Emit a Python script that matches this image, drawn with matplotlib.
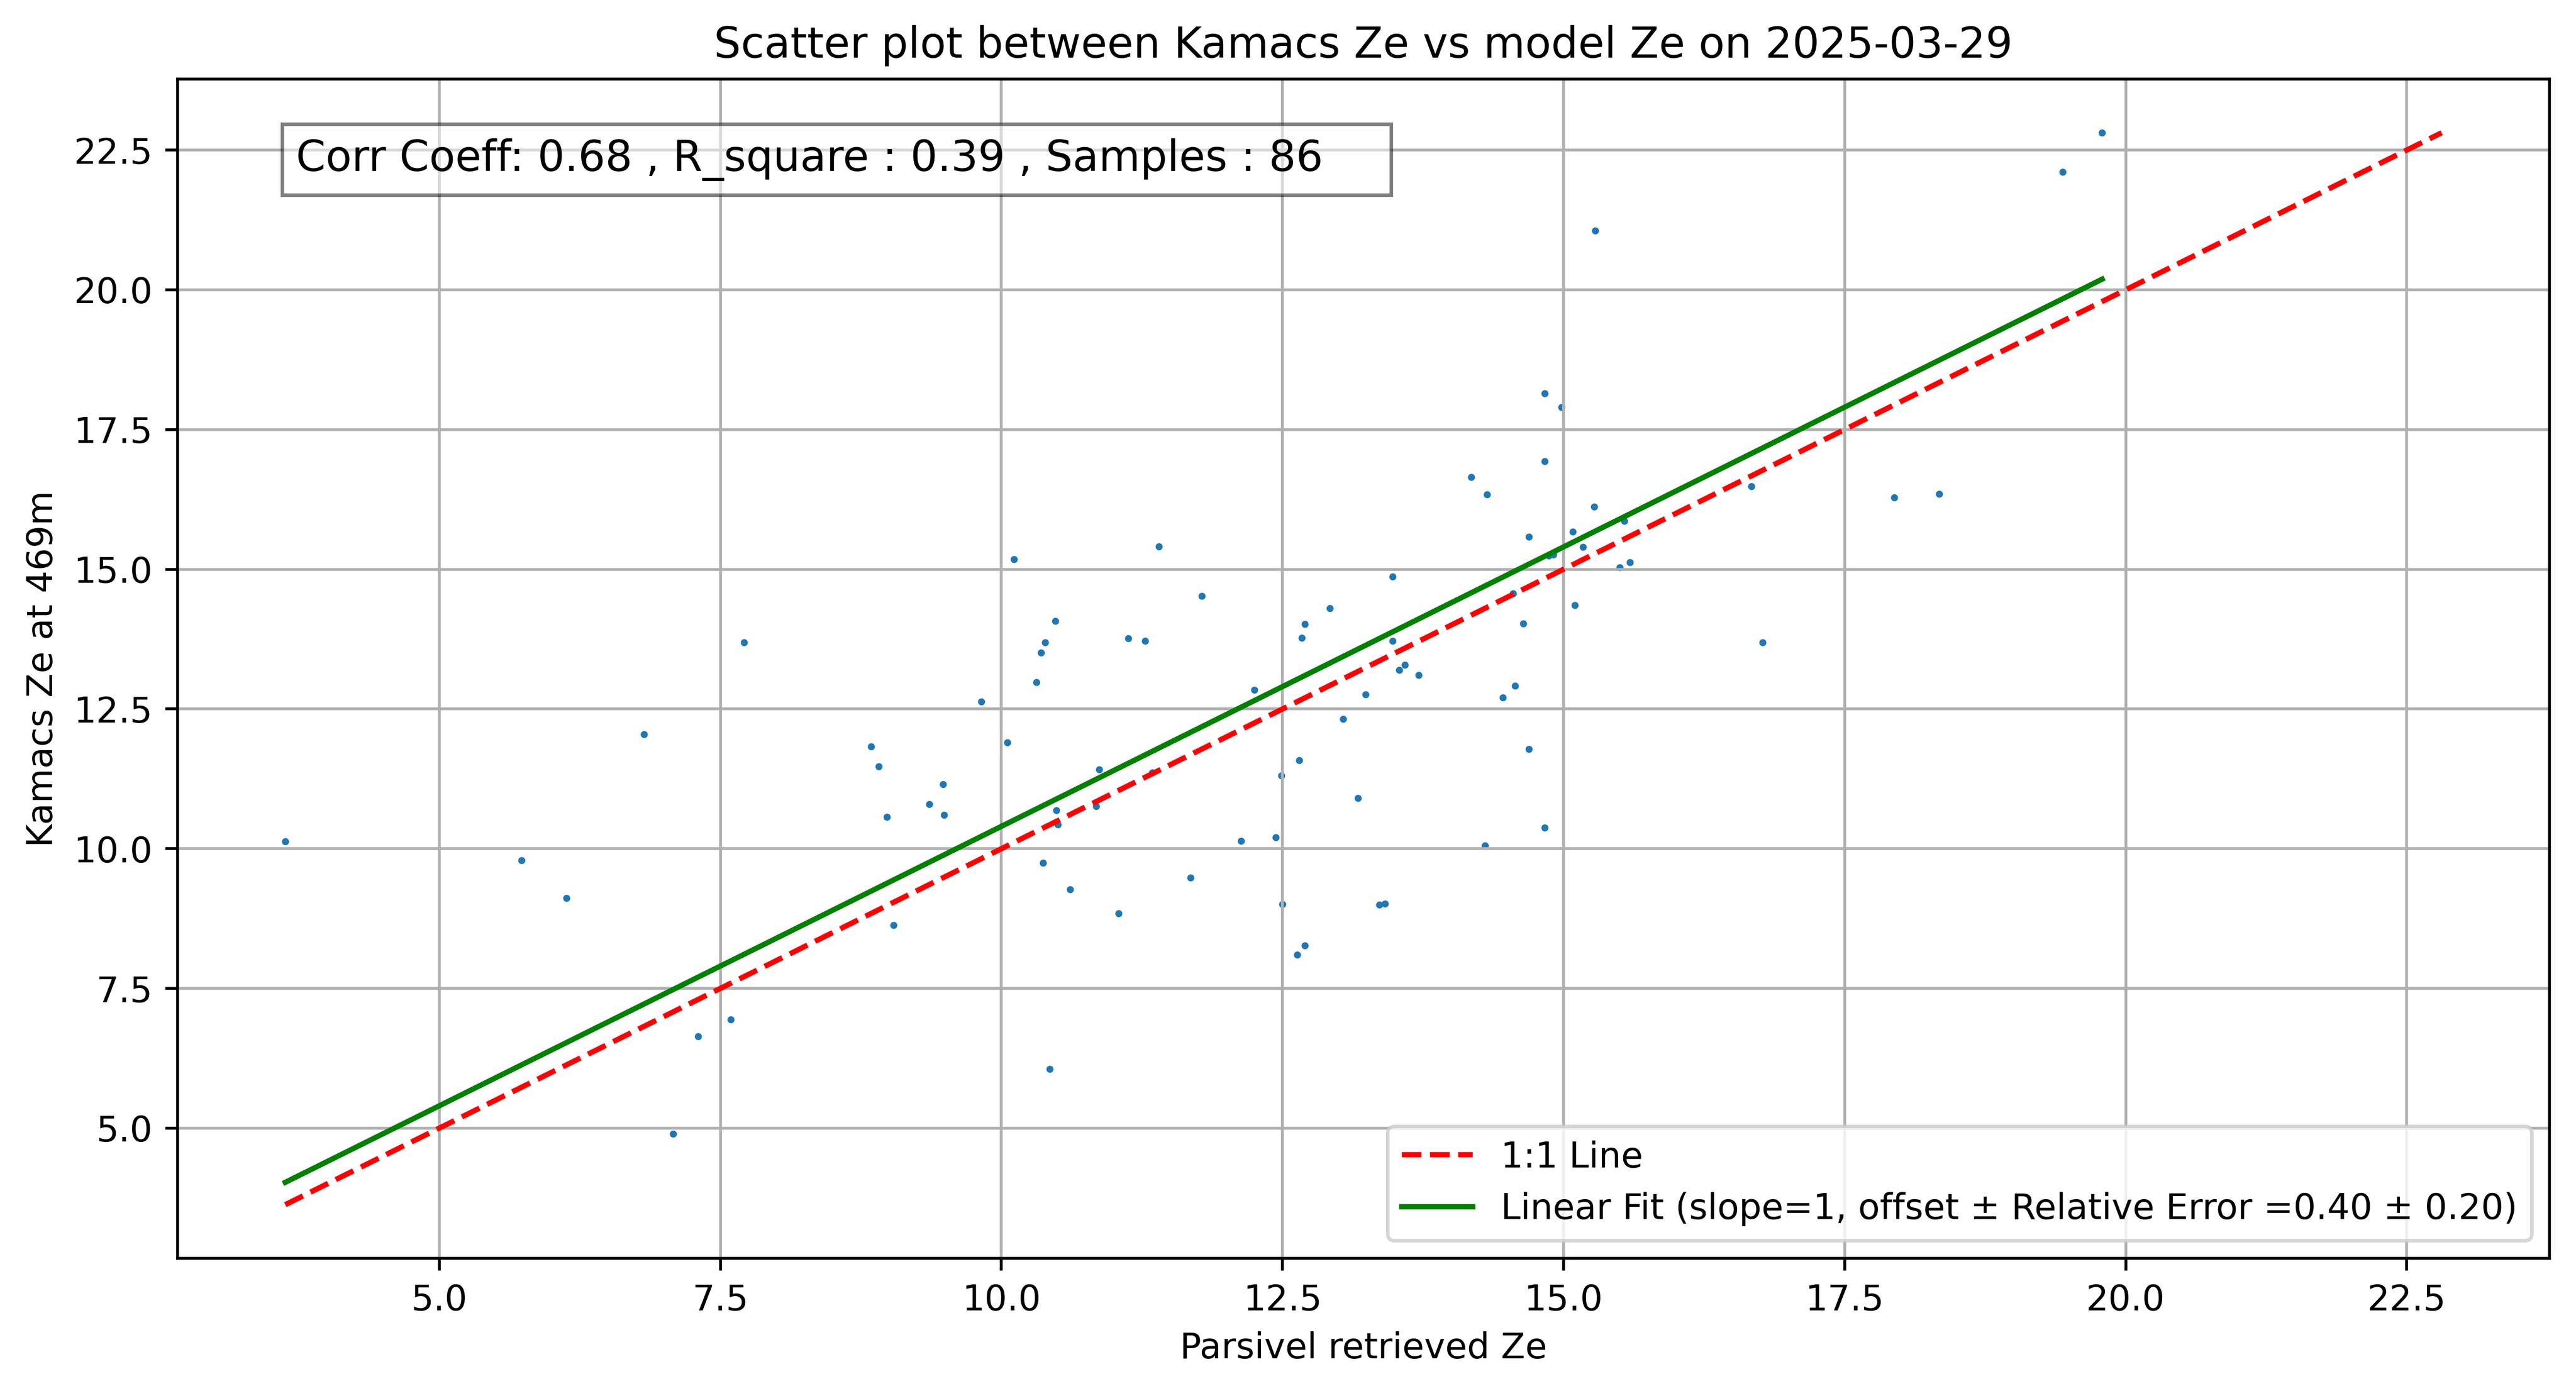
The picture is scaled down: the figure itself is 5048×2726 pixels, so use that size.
import numpy as np
import matplotlib
matplotlib.use("Agg")
import matplotlib.pyplot as plt

# =========================
# DATA
# =========================
PLOT_DATE = "2025-03-29"
HEIGHT_LABEL = "469m"

parsivel_ze = [
    3.63, 5.73, 6.13, 6.82, 7.08, 7.30, 7.59, 7.71, 8.84, 8.91,
    8.98, 9.04, 9.36, 9.48, 9.49, 9.82, 10.05, 10.11, 10.31, 10.35,
    10.39, 10.37, 10.43, 10.48, 10.49, 10.50, 10.61, 10.84, 10.87, 11.04,
    11.13, 11.28, 11.34, 11.40, 11.68, 11.78, 12.13, 12.25, 12.44, 12.49,
    12.50, 12.63, 12.65, 12.67, 12.70, 12.70, 12.92, 13.04, 13.17, 13.24,
    13.36, 13.41, 13.48, 13.48, 13.54, 13.59, 13.71, 14.18, 14.30, 14.32,
    14.46, 14.55, 14.57, 14.64, 14.69, 14.69, 14.83, 14.83, 14.83, 14.91,
    14.87, 14.98, 15.08, 15.10, 15.17, 15.27, 15.28, 15.50, 15.54, 15.59,
    16.67, 16.77, 17.94, 18.34, 19.44, 19.79,
]

kamacs_ze = [
    10.13, 9.79, 9.12, 12.05, 4.90, 6.64, 6.94, 13.69, 11.83, 11.47,
    10.57, 8.63, 10.80, 11.15, 10.60, 12.63, 11.90, 15.18, 12.98, 13.51,
    13.69, 9.75, 6.06, 14.07, 10.69, 10.43, 9.27, 10.76, 11.42, 8.84,
    13.76, 13.72, 11.36, 15.41, 9.48, 14.52, 10.14, 12.84, 10.20, 11.31,
    9.01, 8.10, 11.58, 13.77, 14.02, 8.27, 14.30, 12.32, 10.91, 12.76,
    9.00, 9.02, 14.87, 13.72, 13.20, 13.29, 13.11, 16.65, 10.06, 16.34,
    12.70, 14.57, 12.91, 14.03, 15.58, 11.78, 18.15, 16.93, 10.38, 15.26,
    15.24, 17.90, 15.67, 14.36, 15.40, 16.12, 21.06, 15.03, 15.86, 15.12,
    16.48, 13.69, 16.28, 16.35, 22.11, 22.81,
]

# stats printed on the chart
CORR_COEFF = 0.68
R_SQUARE = 0.39
FIT_SLOPE = 1
FIT_OFFSET = 0.40
REL_ERROR = 0.20


# =========================
# PLOT
# =========================
def plot_scatter(x, y):
    x = np.array(x)
    y = np.array(y)

    fig = plt.figure(figsize=(5048 / 500, 2726 / 500), dpi=500)
    ax = fig.add_axes([0.0689, 0.0954, 0.9208, 0.8477])

    ax.scatter(x, y, s=4, linewidths=0, color='tab:blue')

    # 1:1 line over full data range
    lo = min(x.min(), y.min())
    hi = max(x.max(), y.max())
    ax.plot([lo, hi], [lo, hi], 'r--', label='1:1 Line')

    # linear fit with fixed slope
    xs = np.array([x.min(), x.max()])
    ax.plot(xs, FIT_SLOPE * xs + FIT_OFFSET, 'g-',
            label=f'Linear Fit (slope={FIT_SLOPE}, offset ± Relative Error ={FIT_OFFSET:.2f} ± {REL_ERROR:.2f})')

    # trailing spaces widen the box like the original
    ax.text(0.05, 0.95,
            f'Corr Coeff: {CORR_COEFF:.2f} , R_square : {R_SQUARE:.2f} , Samples : {len(x)}    ',
            transform=ax.transAxes, fontsize=12, va='top',
            bbox=dict(facecolor='white', alpha=0.5))

    ax.set_xlabel('Parsivel retrieved Ze')
    ax.set_ylabel(f'Kamacs Ze at {HEIGHT_LABEL}')
    ax.set_title(f'Scatter plot between Kamacs Ze vs model Ze on {PLOT_DATE}')
    ax.legend(loc='lower right')
    ax.grid(True)

    fig.savefig('out.png', dpi=500)


if __name__ == "__main__":
    plot_scatter(parsivel_ze, kamacs_ze)
